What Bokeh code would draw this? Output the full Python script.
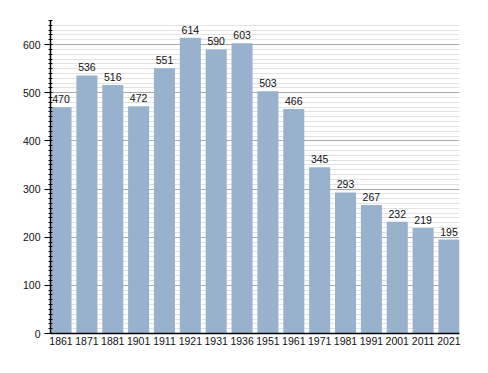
from bokeh.plotting import figure
from bokeh.models import ColumnDataSource, Range1d, FixedTicker, SingleIntervalTicker, LabelSet
from bokeh.core.properties import value
from bokeh.embed import file_html
from bokeh.resources import INLINE

years = ["1861", "1871", "1881", "1901", "1911", "1921", "1931", "1936",
         "1951", "1961", "1971", "1981", "1991", "2001", "2011", "2021"]
population = [470, 536, 516, 472, 551, 614, 590, 603, 503, 466, 345, 293, 267, 232, 219, 195]

xs = list(range(len(years)))
bar_w = 0.814
src = ColumnDataSource(dict(x=xs, top=population, lab=[str(v) for v in population]))

p = figure(width=480, height=365, output_backend="svg", toolbar_location=None,
           x_range=Range1d(-bar_w / 2, len(years) - 1 + bar_w / 2),
           y_range=Range1d(0, 650),
           min_border_left=50, min_border_right=21, min_border_top=20, min_border_bottom=32)
p.outline_line_color = None
p.background_fill_color = "white"

p.vbar(x="x", top="top", width=bar_w, source=src, fill_color="#98b2ce", line_color=None)

labels = LabelSet(x="x", y="top", text="lab", source=src, text_align="center",
                  text_baseline="alphabetic", y_offset=4, text_font=value("Liberation Sans"),
                  text_font_size=value("10.5px"), text_color="#111111")
p.add_layout(labels)

# x axis
p.xaxis.ticker = FixedTicker(ticks=xs)
p.xaxis.major_label_overrides = {i: y for i, y in enumerate(years)}
p.xaxis.major_tick_line_color = None
p.xaxis.major_tick_out = 0
p.xaxis.major_tick_in = 0
p.xaxis.minor_tick_line_color = None
p.xaxis.minor_tick_out = 0
p.xaxis.axis_line_color = "black"
p.xaxis.axis_line_width = 1.5
p.xaxis.major_label_text_font = "Liberation Sans"
p.xaxis.major_label_text_font_size = "10.5px"
p.xaxis.major_label_text_color = "#111111"
p.xaxis.major_label_standoff = 3
p.xgrid.grid_line_color = None

# y axis
p.yaxis.ticker = SingleIntervalTicker(interval=100, num_minor_ticks=10)
p.yaxis.axis_line_color = "black"
p.yaxis.axis_line_width = 1.5
p.yaxis.major_tick_line_color = "black"
p.yaxis.major_tick_out = 6
p.yaxis.major_tick_in = 0
p.yaxis.minor_tick_line_color = "black"
p.yaxis.minor_tick_out = 2
p.yaxis.minor_tick_in = 2
p.yaxis.major_label_text_font = "Liberation Sans"
p.yaxis.major_label_text_font_size = "10.5px"
p.yaxis.major_label_text_color = "#111111"
p.yaxis.major_label_standoff = 4
p.ygrid.grid_line_color = "#a8a8a8"
p.ygrid.grid_line_width = 1
p.ygrid.minor_grid_line_color = "#e2e2e2"
p.ygrid.minor_grid_line_width = 1

open("out.html", "w").write(file_html(p, INLINE))
